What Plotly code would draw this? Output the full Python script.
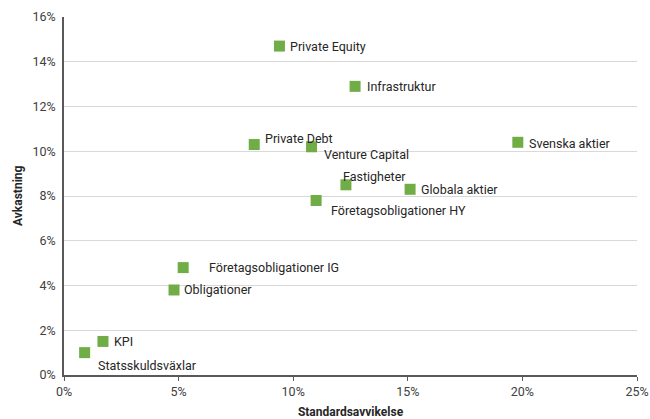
import plotly.graph_objects as go

# Tillgångsslag: förväntad risk (standardavvikelse) och avkastning
tillgangar = [
    "Private Equity", "Infrastruktur", "Private Debt", "Venture Capital",
    "Svenska aktier", "Fastigheter", "Globala aktier", "Företagsobligationer HY",
    "Företagsobligationer IG", "Obligationer", "KPI", "Statsskuldsväxlar",
]
risk = [0.094, 0.127, 0.083, 0.108, 0.198, 0.123, 0.151, 0.110, 0.052, 0.048, 0.017, 0.009]
avkastning = [0.147, 0.129, 0.103, 0.102, 0.104, 0.085, 0.083, 0.078, 0.048, 0.038, 0.015, 0.010]

# Etikettplacering relativt punkten (pixlar)
etikett_dx = [9, 10, 9, 10, 9, -5, 9, 13, 24, 8, 9, 11]
etikett_dy = [0, 0, 6, -8, -1, 8, 0, -10, 0, 0, 0, -13]

x_ticks = [0, 0.05, 0.10, 0.15, 0.20, 0.25]
y_ticks = [0, 0.02, 0.04, 0.06, 0.08, 0.10, 0.12, 0.14, 0.16]

FONT = "Roboto"
GREEN = "#70AD47"

fig = go.Figure()
fig.add_trace(go.Scatter(
    x=risk, y=avkastning, mode="markers",
    marker=dict(symbol="square", size=11, color=GREEN),
    hovertext=tillgangar, hoverinfo="text", showlegend=False,
))

for namn, xv, yv, dx, dy in zip(tillgangar, risk, avkastning, etikett_dx, etikett_dy):
    fig.add_annotation(
        x=xv, y=yv, text=namn, showarrow=False,
        xanchor="left", yanchor="middle",
        xshift=dx, yshift=dy,
        font=dict(family=FONT, size=12.5, color="#262626"),
    )

# Y-axelns rubrik
fig.add_annotation(
    xref="paper", yref="paper", x=0, y=0.5, xshift=-46,
    text="<b>Avkastning</b>", textangle=-90, showarrow=False,
    xanchor="center", yanchor="middle",
    font=dict(family=FONT, size=12, color="#262626"),
)

fig.update_layout(
    width=650, height=419,
    margin=dict(l=64, r=13, t=17, b=44),
    paper_bgcolor="white", plot_bgcolor="white",
    font=dict(family=FONT, size=12.5, color="#404040"),
    xaxis=dict(
        range=[0, 0.25], tickvals=x_ticks, tickformat=".0%",
        showgrid=False, zeroline=False, automargin=False,
        showline=True, linecolor="#595959", linewidth=1.5,
        ticks="outside", ticklen=4, tickcolor="#595959",
        title=dict(text="<b>Standardsavvikelse</b>",
                   font=dict(family=FONT, size=12, color="#262626")),
    ),
    yaxis=dict(
        range=[0, 0.16], tickvals=y_ticks, tickformat=".0%",
        showgrid=True, gridcolor="#d9d9d9", gridwidth=1, zeroline=False,
        automargin=False,
        showline=True, linecolor="#595959", linewidth=1.5,
        ticks="", ticklabelstandoff=4,
    ),
)

fig.write_html("out.html")
